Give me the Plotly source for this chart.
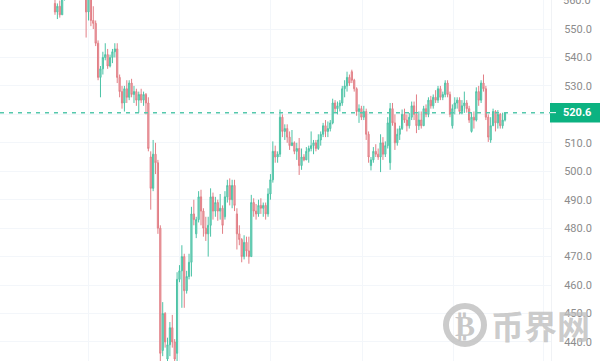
import plotly.graph_objects as go

opens = [
 559,556,558,555,561,564,568,570,569,572,
 571,569,570,564,556,561,553,552,545,533,
 536,540,541,537,540,542,543,533,528,524,
 529,526,531,527,528,525,527,525,527,524,
 505,494,506,503,480,437,450,434,439,445,
 440,436,462,465,470,458,463,468,485,478,
 483,491,486,480,478,481,491,486,489,486,
 487,484,491,495,490,495,485,478,476,470,
 475,472,470,489,486,485,488,487,488,485,
 492,497,507,505,506,519,514,515,512,509,
 510,507,508,502,505,504,507,508,509,510,
 508,511,513,516,514,515,517,524,522,523,
 524,529,530,533,535,532,529,521,522,519,
 521,513,502,504,507,506,505,510,506,509,
 503,522,517,510,513,515,520,518,516,519,
 523,520,516,518,516,522,520,525,523,526,
 525,529,526,527,531,527,516,522,524,525,
 521,523,524,522,514,519,518,528,525,531,
 529,519,511,516,521,517,520,516,518]
highs = [
 562,559,560,562,566,570,572,573,574,575,
 574,572,571,566,563,563,558,553,546,537,
 542,545,543,541,543,545,545,534,530,530,
 532,532,532.5,530,529,528,529,528,527.5,526,
 507,511,510,504,481,454,450.5,441.5,447,449.5,
 441,464.5,467,474,471,465,471,487.5,490,484,
 493,493.5,487,484,484,494,492.5,491,490,492,
 488,493,497,497.5,497,497,487,481,476.5,477.5,
 477,477,491.7,490.5,488.5,490,490.5,489,489,494,
 499,510.5,509,507,521.7,520,516.5,516.5,514,514.5,
 510.5,510,511.7,508,506,508.5,509,514,511,511,
 513,514,517,518,517.5,518,525.5,525,524.5,525,
 530,532,535,534,535.7,532.5,529.5,523.5,523,523,
 522,514,505,508.5,509.5,508,513,512,510.5,519,
 524,524,520,515,516,521.7,522,520,520.5,524.5,
 524.5,527,521,521,523,523.5,526,526.5,527,528.5,
 530,530,528,532,532,528,523.5,526,526,526,
 525,528,525,523,520.5,521,529.5,530,532,534,
 530,520,519,522,521.5,521.5,520.5,520.6,520.8]
lows = [
 555,553.5,554,555,560,563,566,568,567,570,
 568,566,562,547,553,551,550,544,532,526,
 534,539,536,536.5,538,540,531,526,522,521,
 524,525,526,524,523,520.6,524,523,520,507,
 486.5,493,499,478,433,435,438,430,435,438,
 432,433,461,452,452,457,462,463,481,476.5,
 482,481,477,475.5,470,477,483,484,482.6,483,
 478,483,489,488,487,486,472.5,474,468,469,
 470,467.5,470,484,483,484,485,484,483,484,
 490,496,503,503,505,512,511,510,507.5,509,
 506,504,498.7,500.5,503.5,504,503,507,506,507,
 507.5,509,512,512,512,514,516.5,520.5,520,521,
 523,526,528,530,531,528,519.5,517,518,518,
 511,503,500.3,503,505,504,499.7,504,505,508,
 500.5,516,507.5,509,511,514.5,517,514,515,518,
 518,513.4,514.5,515,516,519,519,522,522,524,
 524,525,525,526,526,519,515,520,522,520,
 520,520.5,520.6,517,513.6,515,517.5,523,524,528,
 518,510.3,510,516,514,515,515,515,517.5]
closes = [
 556,558,555,561,564,568,570,569,572,571,
 569,570,564,556,561,553,552,545,533,536,
 540,541,537,540,542,543,533,528,524,529,
 526,531,527,528,525,527,525,527,524,508,
 494,506,503,480,436,450,440,439,445,440,
 434,462,465,470,458,463,468,485,483,483,
 491,486,480,478,481,491,486,489,486,487,
 481,491,495,490,495,488,478,476,470,475,
 472,470,489,486,485,488,487,488,485,492,
 497,507,505,506,519,514,515,512,509,510,
 507,508,502,505,504,507,508,509,510,508,
 511,513,516,514,515,517,524,522,523,524,
 529,530,533,531,532,529,521,522,519,521,
 513,505,504,507,506,505,510,506,509,517,
 522,517,510,513,515,520,518,516,519,523,
 520,516,518,516,522,520,525,523,526,525,
 529,526,527,531,527,520,522,524,525,521,
 523,524,522,518,519,518,528,525,531,529,
 519,512,516,521,517,520,516,518,520.6]

candle_index = list(range(len(opens)))
price_labels = ["440.0", "450.0", "460.0", "470.0", "480.0", "490.0", "500.0",
                "510.0", "530.0", "540.0", "550.0"]
price_label_ticks = [440, 450, 460, 470, 480, 490, 500, 510, 530, 540, 550]
time_grid = [-23.6, 13.8, 52.2, 90, 128.4, 166.4, 204]
last_price = 520.6
top_label = "560.0"
top_value = 560

GREEN = "#4cc3a6"
RED = "#e27f86"
W, H = 600, 361
PLOT_W = 551

fig = go.Figure(go.Candlestick(
    x=candle_index, open=opens, high=highs, low=lows, close=closes,
    increasing=dict(line=dict(color=GREEN, width=1), fillcolor="#93d9c7"),
    decreasing=dict(line=dict(color=RED, width=1), fillcolor="#efb0b3"),
    whiskerwidth=0, hoverinfo="skip", showlegend=False,
))

def px(x):
    return x / PLOT_W

def py(y):
    return 1 - y / H

shapes = [
    dict(type="line", xref="paper", yref="y", x0=0, x1=1, y0=last_price, y1=last_price,
         line=dict(color="#55c8ac", width=1.5, dash="4px 5px"), layer="above"),
    dict(type="rect", xref="paper", yref="paper", x0=px(550), x1=px(600), y0=py(122.5), y1=py(103),
         fillcolor="#0cb281", line=dict(width=0), layer="above"),
    dict(type="line", xref="paper", yref="y", x0=px(550), x1=px(556), y0=last_price, y1=last_price,
         line=dict(color="#ffffff", width=1), layer="above"),
    dict(type="circle", xref="paper", yref="paper", x0=px(446), x1=px(484), y0=py(344), y1=py(306),
         line=dict(color="rgba(190,190,190,0.8)", width=6), layer="above"),
]

annotations = [
    dict(xref="paper", yref="y", x=px(576.5), y=last_price, text="<b>520.6</b>", showarrow=False,
         font=dict(family="Roboto", size=11, color="#ffffff"), xanchor="center", yanchor="middle"),
    dict(xref="paper", yref="y", x=px(576.5), y=top_value, text=top_label, showarrow=False,
         font=dict(family="Roboto", size=11, color="#8c8c8c"), xanchor="center", yanchor="middle"),
    dict(xref="paper", yref="paper", x=px(465), y=py(325), text="<b>₿</b>", showarrow=False,
         font=dict(family="DejaVu Sans", size=30, color="rgba(190,190,190,0.85)"),
         xanchor="center", yanchor="middle"),
    dict(xref="paper", yref="paper", x=px(540), y=py(325), text="<b>币界网</b>", showarrow=False,
         font=dict(family="Noto Sans CJK SC", size=33, color="rgba(190,190,190,0.8)"),
         xanchor="center", yanchor="middle"),
]

fig.update_layout(
    width=W, height=H, autosize=False,
    margin=dict(l=0, r=W - PLOT_W, t=0, b=0),
    paper_bgcolor="#ffffff", plot_bgcolor="#ffffff",
    font=dict(family="Roboto", size=11, color="#8c8c8c"),
    shapes=shapes, annotations=annotations,
    xaxis=dict(range=[-22.97, 207.2], rangeslider=dict(visible=False),
               tickvals=time_grid, showticklabels=False, ticks="",
               showgrid=True, gridcolor="#f3f6fa", gridwidth=1, zeroline=False, showline=False),
    yaxis=dict(range=[433.3, 560.2], side="right", tickvals=price_label_ticks, ticktext=price_labels,
               ticks="outside", ticklen=10, tickcolor="rgba(0,0,0,0)",
               showgrid=True, gridcolor="#f3f6fa", gridwidth=1, zeroline=False,
               showline=True, linecolor="#f0f2f5", linewidth=1,
               tickfont=dict(family="Roboto", size=11, color="#8c8c8c")),
)
fig.add_hline(y=520, line=dict(color="#f3f6fa", width=1), layer="below")

fig.write_html("out.html", config=dict(displayModeBar=False),
               post_script="document.body.style.margin='0';document.body.style.overflow='hidden';")
